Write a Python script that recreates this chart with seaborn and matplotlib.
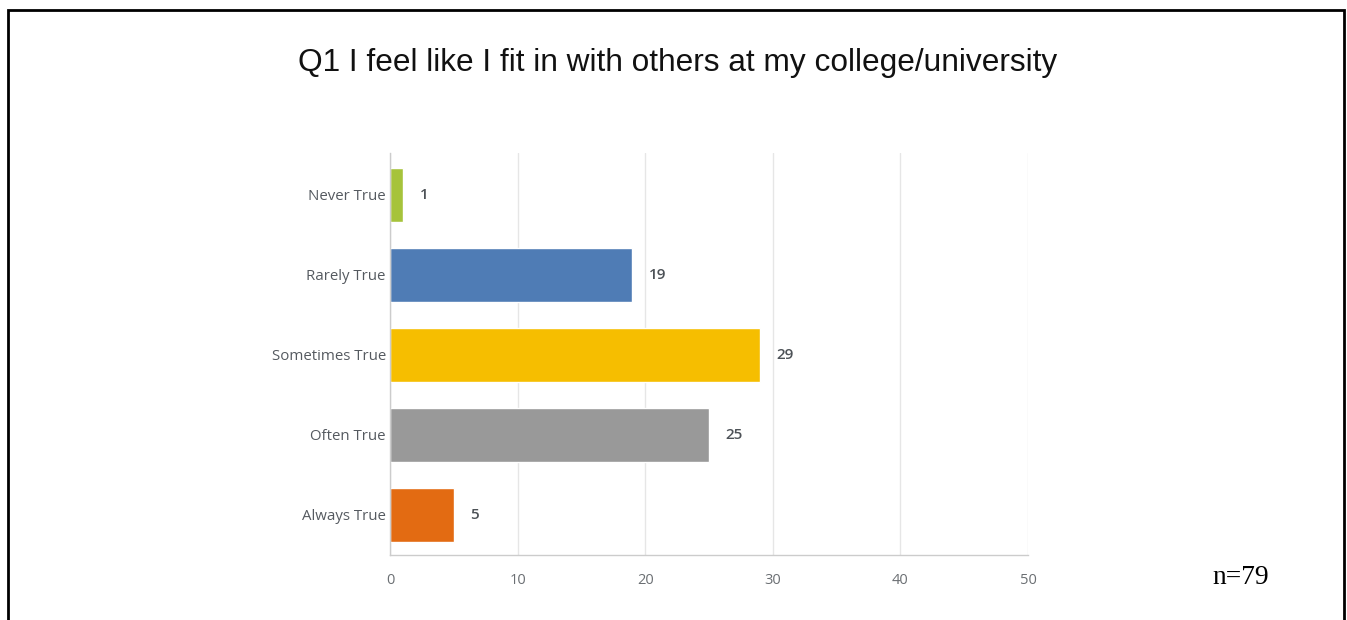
import matplotlib
matplotlib.use("Agg")
import matplotlib.pyplot as plt
import seaborn as sns
import pandas as pd
from matplotlib.patches import Rectangle

categories = ["Never True", "Rarely True", "Sometimes True", "Often True", "Always True"]
counts = [1, 19, 29, 25, 5]
colors = ["#a6c33b", "#4f7cb5", "#f6be00", "#999999", "#e36b12"]
x_ticks = [0, 10, 20, 30, 40, 50]
title = "Q1 I feel like I fit in with others at my college/university"
note = "n=79"

sns.set_theme(style="white")
plt.rcParams['font.family'] = ['Open Sans', 'DejaVu Sans']

fig = plt.figure(figsize=(13.47, 6.2), dpi=100)
ax = fig.add_axes([390/1347, 1-555/620, (1028-390)/1347, (555-153)/620])

df = pd.DataFrame({"cat": categories, "n": counts})
sns.barplot(data=df, y="cat", x="n", hue="cat", palette=colors, order=categories,
            hue_order=categories, legend=False, width=0.68, ax=ax, orient="h",
            saturation=1)

ax.set_xlim(0, 50)
ax.set_ylim(4.5, -0.525)
ax.set_xticks(x_ticks)
ax.set_xticklabels([str(t) for t in x_ticks])
ax.set_xlabel("")
ax.set_ylabel("")
ax.grid(axis="x", color="#e6e6e6", linewidth=1)
ax.grid(axis="y", visible=False)
ax.set_axisbelow(True)
for s in ["top", "right"]:
    ax.spines[s].set_visible(False)
for s in ["left", "bottom"]:
    ax.spines[s].set_color("#cccccc")
    ax.spines[s].set_linewidth(1)
ax.tick_params(axis="y", length=0, pad=3, labelsize=10.8, labelcolor="#555a60")
ax.tick_params(axis="x", length=0, pad=13, labelsize=10.5, labelcolor="#6b6f73")

for i, v in enumerate(counts):
    ax.annotate(str(v), xy=(v, i), xytext=(12, 0), textcoords="offset points",
                va="center", ha="left", fontsize=11, fontweight="semibold", color="#4d5257")

fig.text(678/1347, 1-63/620, title, ha="center", va="center", fontsize=22.8,
         family="Liberation Sans", color="#111111")
fig.text(1241/1347, 1-578/620, note, ha="center", va="center", fontsize=19.8,
         family="Liberation Serif", color="#000000")

fig.add_artist(Rectangle((7.5/1347, -0.05), (1344-7.5)/1347, 1.05-10.5/620,
                         transform=fig.transFigure, fill=False, edgecolor="#000000",
                         linewidth=2))

fig.savefig("out.png", dpi=100)
